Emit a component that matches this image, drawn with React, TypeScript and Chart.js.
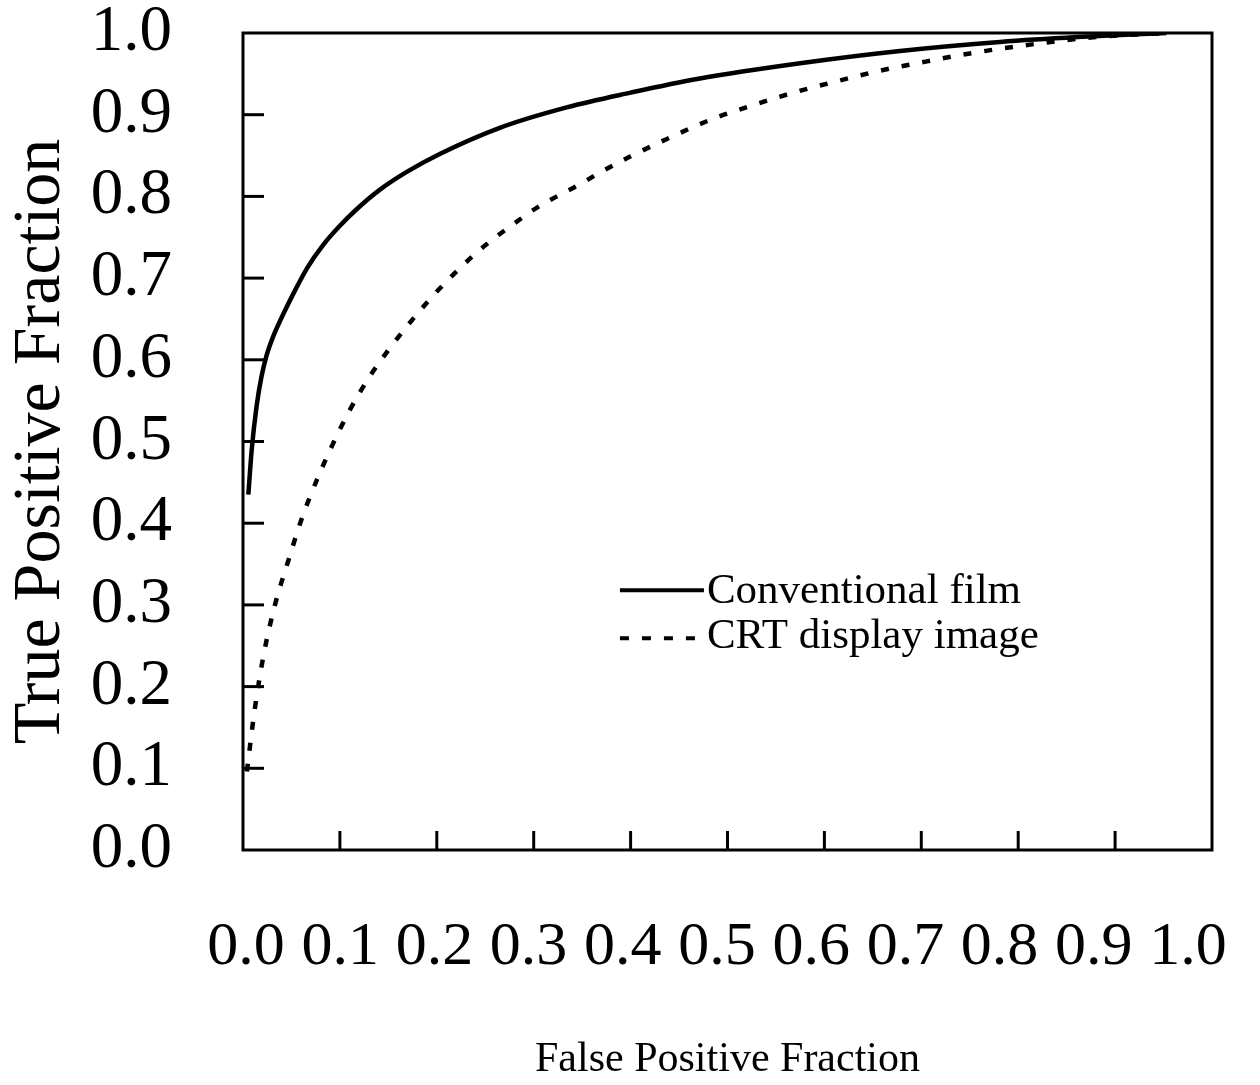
import React, { useEffect, useRef } from "react";
import { Chart, registerables } from "chart.js";

Chart.register(...registerables);

const FONT = "'Liberation Serif', 'Times New Roman', Times, serif";

// Conventional film ROC curve
const filmFPF = [0.0055, 0.009, 0.014, 0.019, 0.024, 0.031, 0.042, 0.052, 0.066, 0.083, 0.1, 0.117, 0.141, 0.169, 0.203, 0.265, 0.334, 0.4, 0.47, 0.575, 0.678, 0.781, 0.861, 0.953];
const filmTPF = [0.435, 0.49, 0.543, 0.579, 0.604, 0.628, 0.657, 0.681, 0.712, 0.741, 0.764, 0.784, 0.808, 0.83, 0.852, 0.884, 0.909, 0.927, 0.944, 0.963, 0.978, 0.989, 0.995, 1.0];

// CRT display image ROC curve
const crtFPF = [0.004, 0.012, 0.021, 0.033, 0.047, 0.059, 0.069, 0.09, 0.11, 0.131, 0.152, 0.174, 0.202, 0.238, 0.253, 0.286, 0.303, 0.327, 0.348, 0.368, 0.4, 0.437, 0.485, 0.53, 0.568, 0.613, 0.654, 0.696, 0.75, 0.82, 0.88, 0.953];
const crtTPF = [0.096, 0.171, 0.237, 0.3, 0.355, 0.4, 0.432, 0.49, 0.538, 0.58, 0.615, 0.648, 0.686, 0.728, 0.743, 0.772, 0.786, 0.802, 0.815, 0.829, 0.849, 0.87, 0.895, 0.913, 0.927, 0.941, 0.953, 0.963, 0.975, 0.987, 0.995, 1.0];

const xTickLabels = [0.0, 0.1, 0.2, 0.3, 0.4, 0.5, 0.6, 0.7, 0.8, 0.9, 1.0];
const innerTicks = [0.1, 0.2, 0.3, 0.4, 0.5, 0.6, 0.7, 0.8, 0.9];
const seriesNames = ["Conventional film", "CRT display image"];
const legendAnchor = { x: 0.389, y: 0.318 };

const framePlugin = {
  id: "frameAndLegend",
  afterDatasetsDraw(chart: any) {
    const { ctx, chartArea } = chart;
    const { left, right, top, bottom } = chartArea;
    const xs = chart.scales.x;
    const ys = chart.scales.y;
    ctx.save();
    ctx.strokeStyle = "#000";
    ctx.lineWidth = 3;
    ctx.setLineDash([]);
    ctx.strokeRect(left, top, right - left, bottom - top);
    ctx.lineWidth = 3;
    for (const v of innerTicks) {
      const px = xs.getPixelForValue(v);
      ctx.beginPath();
      ctx.moveTo(px, bottom);
      ctx.lineTo(px, bottom - 19);
      ctx.stroke();
      const py = ys.getPixelForValue(v);
      ctx.beginPath();
      ctx.moveTo(left, py);
      ctx.lineTo(left + 21, py);
      ctx.stroke();
    }
    // legend
    const lx = xs.getPixelForValue(legendAnchor.x);
    const ly = ys.getPixelForValue(legendAnchor.y);
    ctx.font = `43px ${FONT}`;
    ctx.textBaseline = "middle";
    ctx.textAlign = "left";
    ctx.fillStyle = "#000";
    chart.data.datasets.forEach((ds: any, i: number) => {
      const yy = ly + i * 45;
      ctx.lineWidth = 4;
      if (ds.borderDash && ds.borderDash.length) {
        ctx.setLineDash([9, 13]);
        ctx.beginPath();
        ctx.moveTo(lx, yy + 3);
        ctx.lineTo(lx + 75, yy + 3);
        ctx.stroke();
      } else {
        ctx.setLineDash([]);
        ctx.beginPath();
        ctx.moveTo(lx, yy);
        ctx.lineTo(lx + 84, yy);
        ctx.stroke();
      }
      ctx.setLineDash([]);
      ctx.fillText(ds.label, lx + 87, yy + 2);
    });
    ctx.restore();
  },
};

export default function App() {
  const ref = useRef<HTMLCanvasElement>(null);
  useEffect(() => {
    const canvas = ref.current!;
    const fmt = (v: any) => Number(v).toFixed(1);
    const chart = new Chart(canvas, {
      type: "line",
      data: {
        datasets: [
          {
            label: seriesNames[0],
            data: filmFPF.map((x, i) => ({ x, y: filmTPF[i] })),
            borderColor: "#000",
            borderWidth: 4.5,
            pointRadius: 0,
            cubicInterpolationMode: "monotone",
            fill: false,
            xAxisID: "x",
            yAxisID: "y",
          },
          {
            label: seriesNames[1],
            data: crtFPF.map((x, i) => ({ x, y: crtTPF[i] })),
            borderColor: "#000",
            borderWidth: 4.5,
            borderDash: [8, 13],
            pointRadius: 0,
            cubicInterpolationMode: "monotone",
            fill: false,
            xAxisID: "x",
            yAxisID: "y",
          },
        ],
      } as any,
      options: {
        animation: false,
        responsive: false,
        devicePixelRatio: 1,
        layout: { padding: { top: 33, right: 48, bottom: 0, left: 0 } },
        plugins: { legend: { display: false }, tooltip: { enabled: false } },
        scales: {
          x: { type: "linear", min: 0, max: 1, display: false },
          x2: {
            type: "linear",
            position: "bottom",
            min: -0.0032,
            max: 1.0255,
            grid: { display: false },
            border: { display: false },
            afterBuildTicks: (s: any) => {
              s.ticks = xTickLabels.map((v) => ({ value: v }));
            },
            afterFit: (s: any) => {
              s.height = 235;
              s.paddingLeft = 0;
              s.paddingRight = 0;
            },
            ticks: {
              autoSkip: false,
              maxRotation: 0,
              minRotation: 0,
              padding: 53,
              color: "#000",
              font: { family: FONT, size: 62 },
              callback: fmt,
            },
            title: {
              display: true,
              text: "False Positive Fraction",
              color: "#000",
              font: { family: FONT, size: 42 },
              padding: 0,
            },
          },
          y: {
            type: "linear",
            min: 0,
            max: 1,
            grid: { display: false },
            border: { display: false },
            afterFit: (s: any) => {
              s.width = 243;
              s.paddingTop = 0;
              s.paddingBottom = 0;
            },
            ticks: {
              stepSize: 0.1,
              autoSkip: false,
              padding: 63,
              color: "#000",
              font: { family: FONT, size: 65 },
              callback: fmt,
            },
            title: {
              display: true,
              text: "True Positive Fraction",
              color: "#000",
              font: { family: FONT, size: 68 },
              padding: 0,
            },
          },
        },
      } as any,
      plugins: [framePlugin],
    });
    return () => chart.destroy();
  }, []);
  return (
    <div style={{ position: "absolute", left: 0, top: 0, width: 1260, height: 1085, background: "#fff" }}>
      <canvas ref={ref} width={1260} height={1085} style={{ display: "block", width: 1260, height: 1085 }} />
    </div>
  );
}
